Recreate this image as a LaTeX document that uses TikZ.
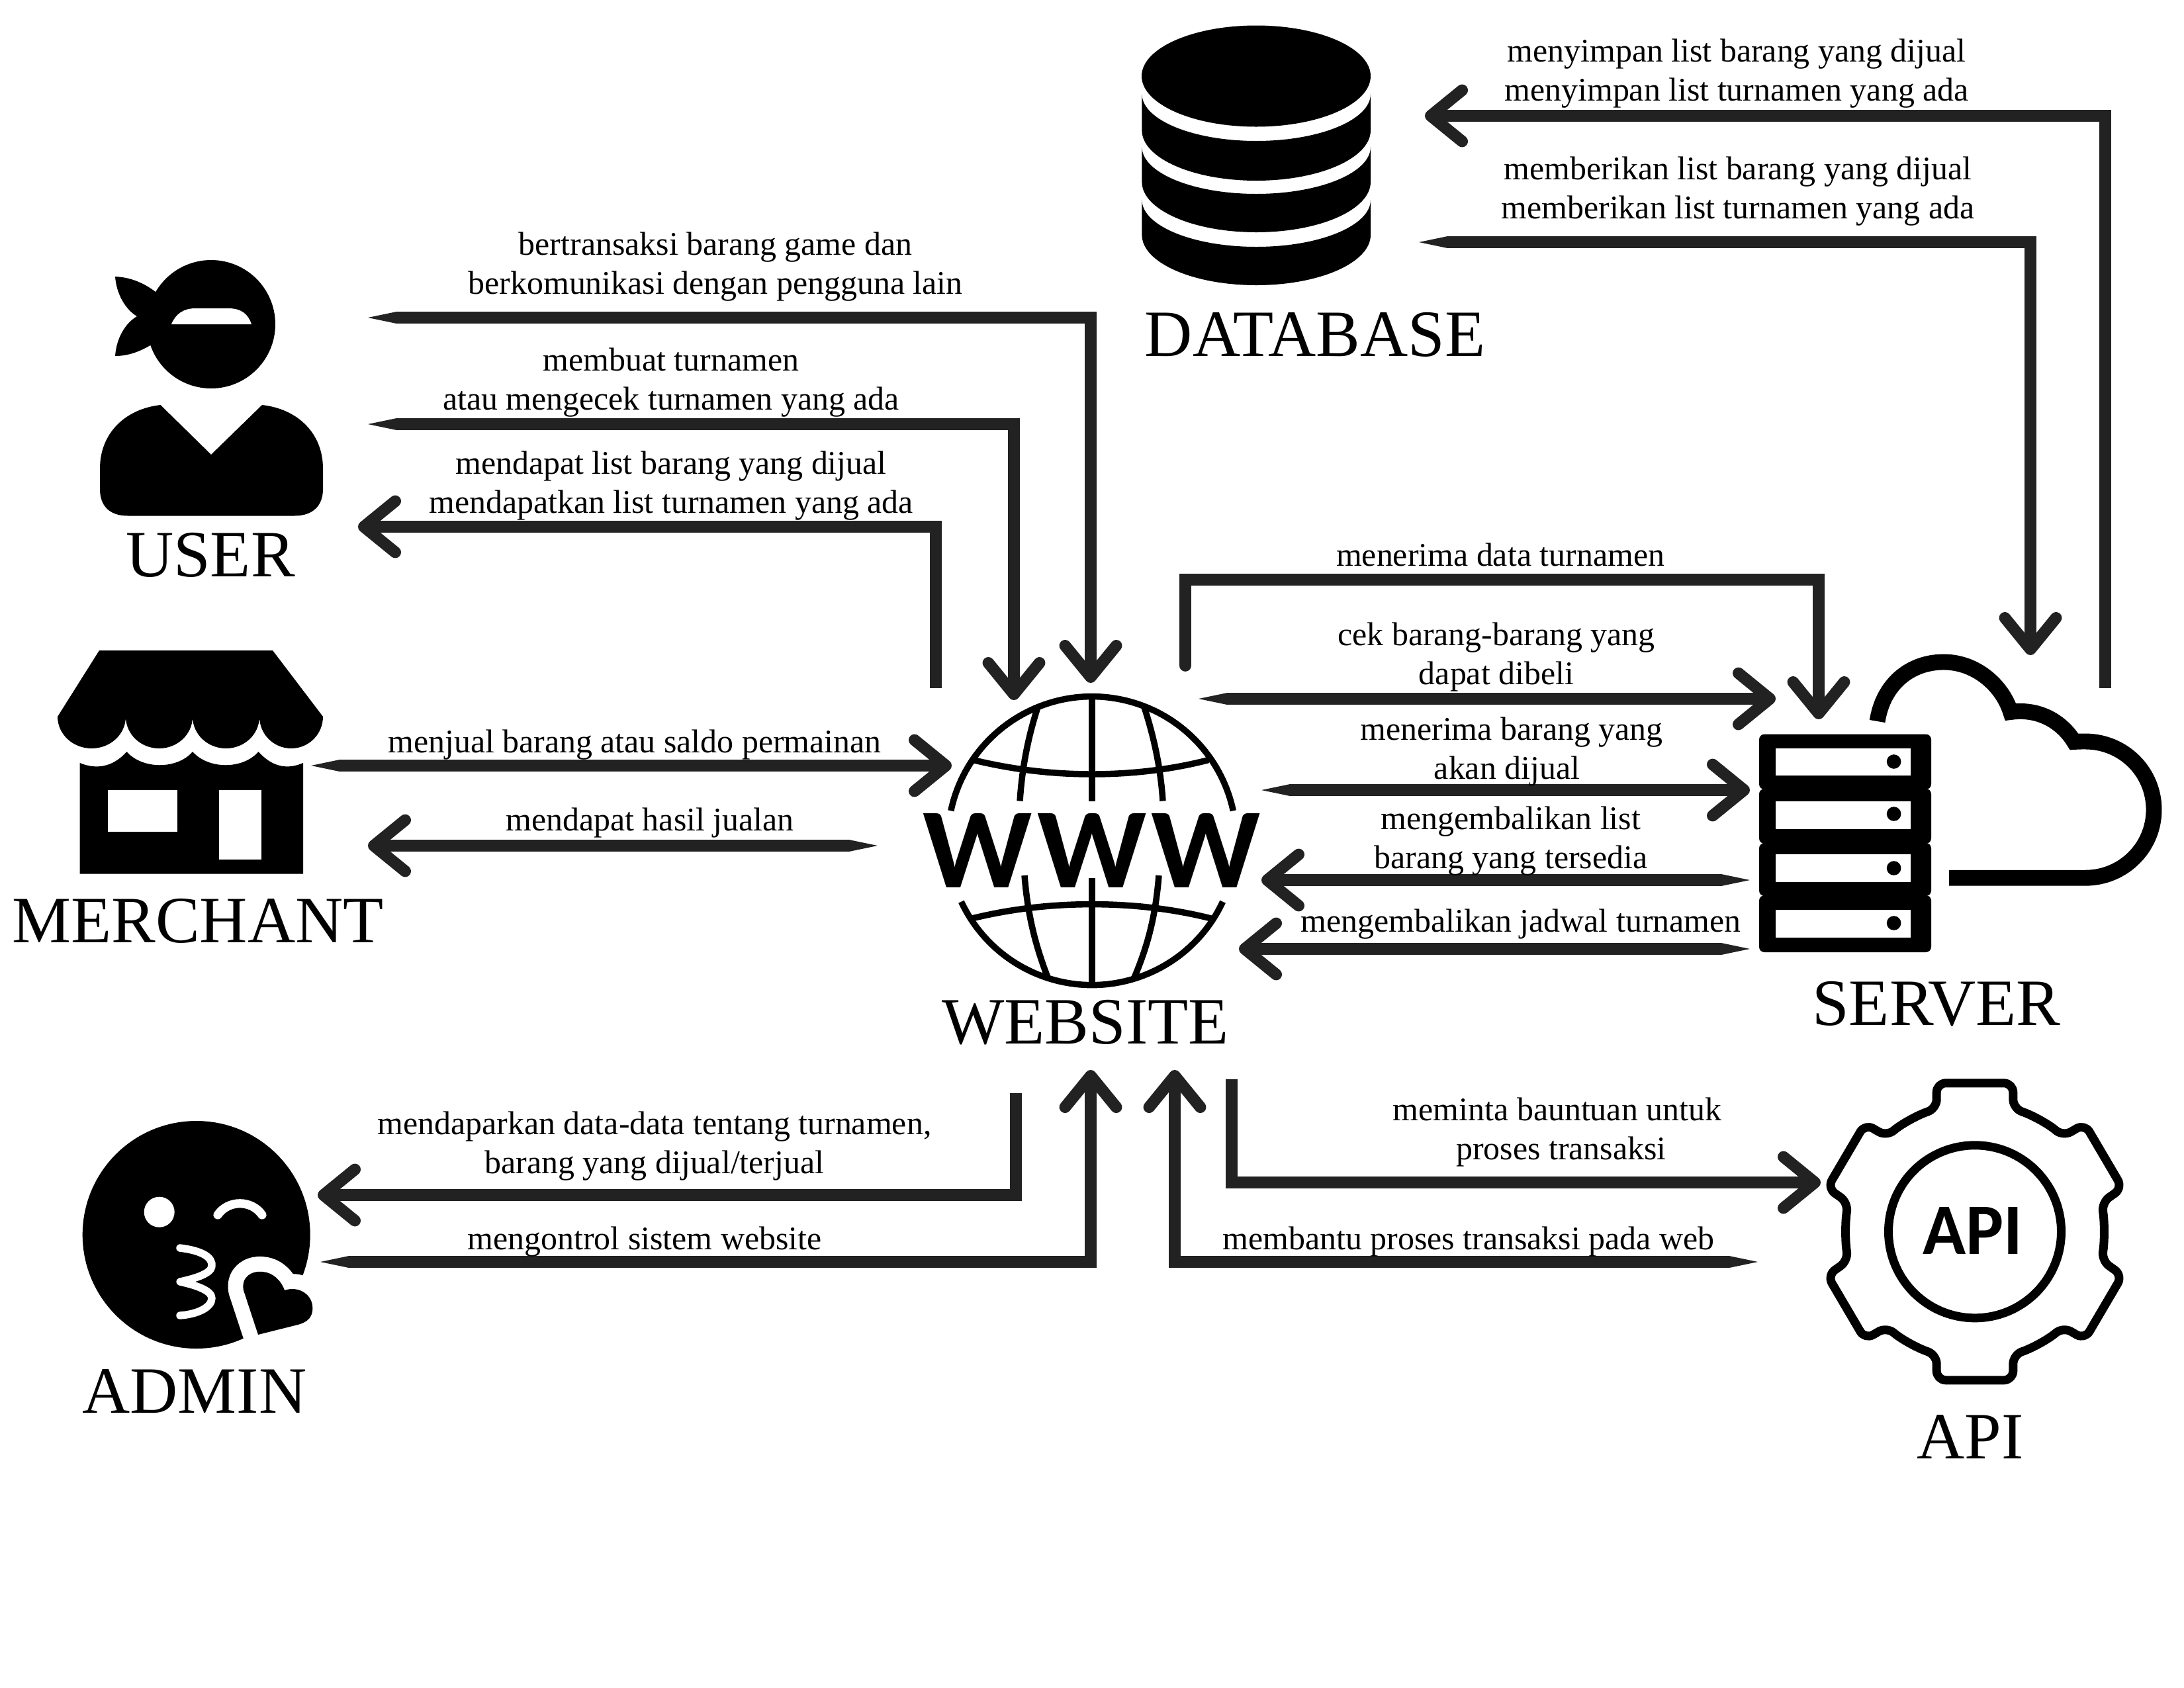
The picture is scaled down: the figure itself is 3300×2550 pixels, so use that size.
\documentclass[tikz,border=0pt]{standalone}
\usepackage{fontspec}
\usetikzlibrary{arrows.meta}
\setmainfont{Liberation Serif}
\newfontfamily\wwwfont[LetterSpace=4]{Carlito}
\newfontfamily\apifont{Carlito}
\definecolor{arrowc}{HTML}{222222}
\newlength{\pxu}\setlength{\pxu}{0.02cm}
\tikzset{
  lbl/.style={anchor=base,inner sep=0pt,align=center,text=black,font=\fontsize{28.4pt}{33.45pt}\selectfont},
  biglbl/.style={anchor=base,inner sep=0pt,text=black,font=\fontsize{56.9pt}{60pt}\selectfont},
  flow/.style={draw=arrowc,line width=10pt,-{Straight Barb[length=27pt,width=44pt,line width=10pt,round]}},
  flowt/.style={draw=arrowc,line width=10pt,{Triangle[length=24pt,width=10pt,line width=0pt]}-{Straight Barb[length=27pt,width=44pt,line width=10pt,round]}},
  ink/.style={fill=black,draw=none},
  hole/.style={fill=white,draw=none},
  globe/.style={draw=black,line width=5.4pt},
  gear/.style={draw=black,line width=7.4pt,line join=round},
}
\begin{document}
\begin{tikzpicture}[x=0.02cm,y=-0.02cm]
\fill[white] (0,0) rectangle (3300,2550);
\useasboundingbox (0,0) rectangle (3300,2550);

% DATABASE icon
\fill[ink] (1898,115) circle[x radius=173,y radius=76.5];
\foreach \a/\b/\c in {142/197/1, 222/275/2, 302/355/3}{
  \fill[ink] (1725.4,\a) arc[start angle=180,end angle=0,x radius=172.8,y radius=71]
     -- (2071,\b) arc[start angle=0,end angle=180,x radius=172.8,y radius=76] -- cycle;
}
\node[biglbl] (database) at (1987,538) {DATABASE};

% USER icon
\fill[ink] (319,490) circle[radius=97];
\fill[ink] (240,445) .. controls (222,430) and (200,419) .. (174,418) .. controls (176,445) and (190,468) .. (207,478)
  .. controls (190,488) and (176,510) .. (174,538) .. controls (198,538) and (218,528) .. (235,517) -- (262,480) -- cycle;
\fill[hole] (259,490) .. controls (265,475) and (277,466) .. (295,466) -- (345,466) .. controls (365,466) and (375,475) .. (380,490) -- cycle;
\fill[ink] (242.5,612) -- (319,687) -- (396,612) .. controls (450,618) and (488,655) .. (488,708) -- (488,739)
  .. controls (488,765) and (472,779.5) .. (445,779.5) -- (193,779.5) .. controls (166,779.5) and (151,765) .. (151,739)
  -- (151,708) .. controls (151,655) and (189,618) .. (242.5,612) -- cycle;
\node[biglbl] (user) at (318,871) {USER};

% MERCHANT icon
\fill[ink] (150,983) -- (412,983) -- (488,1083)
  arc[start angle=0,end angle=180,x radius=48,y radius=48]
  arc[start angle=0,end angle=180,x radius=50.5,y radius=48]
  arc[start angle=0,end angle=180,x radius=50.5,y radius=48]
  arc[start angle=0,end angle=180,x radius=51.5,y radius=48] -- cycle;
\fill[ink] (120.6,1153) .. controls (145,1163) and (170,1160) .. (191.5,1136) .. controls (215,1163) and (268,1163) .. (291,1136)
  .. controls (315,1163) and (367,1163) .. (390.5,1136) .. controls (412,1160) and (435,1163) .. (458,1153)
  -- (458,1320.5) -- (120.6,1320.5) -- cycle;
\fill[hole] (163,1194) rectangle (268,1257);
\fill[hole] (331,1194) rectangle (395,1299);
\node[biglbl] (merchant) at (299,1424) {MERCHANT};

% WEBSITE globe
\draw[globe] (1436.8,1225.3) arc[start angle=192,end angle=348,x radius=218,y radius=218];
\draw[globe] (1847.6,1362.7) arc[start angle=25,end angle=155,x radius=218,y radius=218];
\draw[globe] (1650,1050) -- (1650,1210.5);
\draw[globe] (1650,1327) -- (1650,1492);
\draw[globe] (1568,1069) .. controls (1552,1118) and (1544,1165) .. (1541,1210.5);
\draw[globe] (1729,1069) .. controls (1745,1118) and (1754,1165) .. (1757,1210.5);
\draw[globe] (1548,1323) .. controls (1553,1385) and (1565,1430) .. (1583.4,1478);
\draw[globe] (1751,1323) .. controls (1746,1385) and (1734,1430) .. (1713.6,1478);
\draw[globe] (1470.5,1148.5) .. controls (1530,1163) and (1590,1170) .. (1650,1170) .. controls (1710,1170) and (1770,1163) .. (1826,1148.5);
\draw[globe] (1468.6,1388) .. controls (1530,1373) and (1590,1366.6) .. (1650,1366.6) .. controls (1710,1366.6) and (1770,1373) .. (1830,1388);
\node[inner sep=0pt] (www) at (1650,1285) {\resizebox{510\pxu}{112\pxu}{\wwwfont\bfseries WWW}};
\node[biglbl] (website) at (1640,1577) {WEBSITE};

% SERVER icon
\foreach \a/\b in {1109.6/1193, 1192/1275, 1274/1354, 1353/1439}{
  \fill[ink,rounded corners=8\pxu] (2658,\a) rectangle (2918,\b);
}
\foreach \a/\b/\c in {1130.6/1172/1151, 1211.3/1253.4/1230, 1291.3/1333.4/1312, 1374.8/1416.5/1395}{
  \fill[hole] (2683,\a) rectangle (2887,\b);
  \fill[ink] (2861.6,\c) circle[radius=10.8];
}
\draw[black,line width=13.6pt] (2836.6,1090) .. controls (2845,1035) and (2885,1000.5) .. (2937,1000.5)
  .. controls (2985,1000.5) and (3025,1035) .. (3038,1076)
  .. controls (3080,1070) and (3115,1090) .. (3134,1121)
  .. controls (3140,1120.5) and (3145,1120.5) .. (3151,1120.5)
  .. controls (3208,1120.5) and (3254.5,1166) .. (3254.5,1223.6)
  .. controls (3254.5,1281) and (3208,1326.7) .. (3151,1326.7) -- (2945,1326.7);
\node[biglbl] (server) at (2926,1549) {SERVER};

% API icon
\begin{scope}[shift={(2984,1861.3)}]
\draw[gear,rounded corners=14\pxu] (57.8,-185.9) .. controls (87,-176) and (112,-162) .. (133,-143.8)
  -- (166,-163) -- (223,-66) -- (191.4,-43.8) .. controls (196,-15) and (196,15) .. (191.4,43.8)
  -- (223,66) -- (166,163) -- (133,143.8) .. controls (112,162) and (87,176) .. (57.8,185.9)
  -- (57.8,224.5) -- (-57.8,224.5) -- (-57.8,185.9) .. controls (-87,176) and (-112,162) .. (-133,143.8)
  -- (-166,163) -- (-223,66) -- (-191.4,43.8) .. controls (-196,15) and (-196,-15) .. (-191.4,-43.8)
  -- (-223,-66) -- (-166,-163) -- (-133,-143.8) .. controls (-112,-162) and (-87,-176) .. (-57.8,-185.9)
  -- (-57.8,-224.5) -- (57.8,-224.5) -- cycle;
\draw[gear] (0,0) circle[radius=130.5];
\node[inner sep=0pt] (apiglyph) at (-3.5,-1) {\resizebox{151\pxu}{71\pxu}{\apifont\bfseries API}};
\end{scope}
\node[biglbl] (api) at (2977,2204) {API};

% ADMIN icon
\fill[ink] (296.7,1866) circle[radius=172];
\fill[hole] (240.7,1831.7) circle[radius=23];
\draw[white,line width=7.5pt,line cap=round] (329,1836) .. controls (345,1813) and (380,1813) .. (396,1836);
\draw[white,line width=6.5pt,line cap=round,line join=round] (272,1886) .. controls (305,1890) and (322,1900) .. (320,1914)
  .. controls (318,1925) and (295,1932) .. (272,1937) .. controls (295,1942) and (320,1950) .. (320,1962)
  .. controls (320,1975) and (300,1986) .. (272,1988);
\path[fill=white,draw=white,line width=26pt,line join=round] (390,2017) -- (368,1950) .. controls (364,1930) and (380,1920) .. (397,1922)
  .. controls (412,1923) and (425,1935) .. (430,1950) .. controls (450,1943) and (470,1955) .. (472,1973)
  .. controls (474,1990) and (465,1998) .. (450,2002) -- cycle;
\fill[ink] (390,2017) -- (368,1950) .. controls (364,1930) and (380,1920) .. (397,1922)
  .. controls (412,1923) and (425,1935) .. (430,1950) .. controls (450,1943) and (470,1955) .. (472,1973)
  .. controls (474,1990) and (465,1998) .. (450,2002) -- cycle;
\node[biglbl] (admin) at (294,2135) {ADMIN};

% connector ends
\coordinate (a1s) at (556,480);   \coordinate (a1e) at (1648,1032);
\coordinate (a2s) at (556,641);   \coordinate (a2e) at (1532,1058);
\coordinate (a3s) at (1414,1040); \coordinate (a3e) at (541,796);
\coordinate (a4s) at (470,1157);  \coordinate (a4e) at (1438,1157);
\coordinate (a5s) at (1326,1278); \coordinate (a5e) at (556,1278);
\coordinate (a6s) at (1535,1652); \coordinate (a6e) at (480,1806);
\coordinate (a7s) at (484,1907);  \coordinate (a7e) at (1648,1617);
\coordinate (a8s) at (2656,1907); \coordinate (a8e) at (1775,1617);
\coordinate (a9s) at (1861,1631); \coordinate (a9e) at (2751,1787);
\coordinate (a10s) at (2644,1434);\coordinate (a10e) at (1872,1434);
\coordinate (a11s) at (2644,1330);\coordinate (a11e) at (1906,1330);
\coordinate (a12s) at (1906,1194);\coordinate (a12e) at (2644,1194);
\coordinate (a13s) at (1811,1056);\coordinate (a13e) at (2683,1056);
\coordinate (a14s) at (1791,1006);\coordinate (a14m) at (2748,876); \coordinate (a14e) at (2748,1087);
\coordinate (a15s) at (3181,1040);\coordinate (a15e) at (2153,175);
\coordinate (a16s) at (2144,366); \coordinate (a16e) at (3068,990);

% connectors
\draw[flowt] (a1s) -| (a1e);
\draw[flowt] (a2s) -| (a2e);
\draw[flow]  (a3s) |- (a3e);
\draw[flowt] (a4s) -- (a4e);
\draw[flowt] (a5s) -- (a5e);
\draw[flow]  (a6s) |- (a6e);
\draw[flowt] (a7s) -| (a7e);
\draw[flowt] (a8s) -| (a8e);
\draw[flow]  (a9s) |- (a9e);
\draw[flowt] (a10s) -- (a10e);
\draw[flowt] (a11s) -- (a11e);
\draw[flowt] (a12s) -- (a12e);
\draw[flowt] (a13s) -- (a13e);
\draw[flow,line cap=round] (a14s) |- (a14m) -- (a14e);
\draw[flow]  (a15s) |- (a15e);
\draw[flowt] (a16s) -| (a16e);

% connector labels
\node[lbl] (t1) at (1081,444) {bertransaksi barang game dan\\berkomunikasi dengan pengguna lain};
\node[lbl] (t2) at (1014,619) {membuat turnamen\\atau mengecek turnamen yang ada};
\node[lbl] (t3) at (1014,775) {mendapat list barang yang dijual\\mendapatkan list turnamen yang ada};
\node[lbl] (t4) at (959,1137) {menjual barang atau saldo permainan};
\node[lbl] (t5) at (982,1255) {mendapat hasil jualan};
\node[lbl] (t6) at (989,1773) {mendaparkan data-data tentang turnamen,\\barang yang dijual/terjual};
\node[lbl] (t7) at (974,1888) {mengontrol sistem website};
\node[lbl] (t8) at (2219,1888) {membantu proses transaksi pada web};
\node[lbl] (t9) at (2353,1752) {meminta bauntuan untuk\\\hspace*{12\pxu}proses transaksi};
\node[lbl] (t10) at (2267,855) {menerima data turnamen};
\node[lbl] (t11) at (2261,1034) {cek barang-barang yang\\dapat dibeli};
\node[lbl] (t12) at (2284,1177) {menerima barang yang\\akan dijual\hspace*{14\pxu}};
\node[lbl] (t13) at (2283,1312) {mengembalikan list\\barang yang tersedia};
\node[lbl] (t14) at (2298,1408) {mengembalikan jadwal turnamen};
\node[lbl] (t15) at (2624,152) {menyimpan list barang yang dijual\\menyimpan list turnamen yang ada};
\node[lbl] (t16) at (2626,330) {memberikan list barang yang dijual\\memberikan list turnamen yang ada};
\end{tikzpicture}
\end{document}
